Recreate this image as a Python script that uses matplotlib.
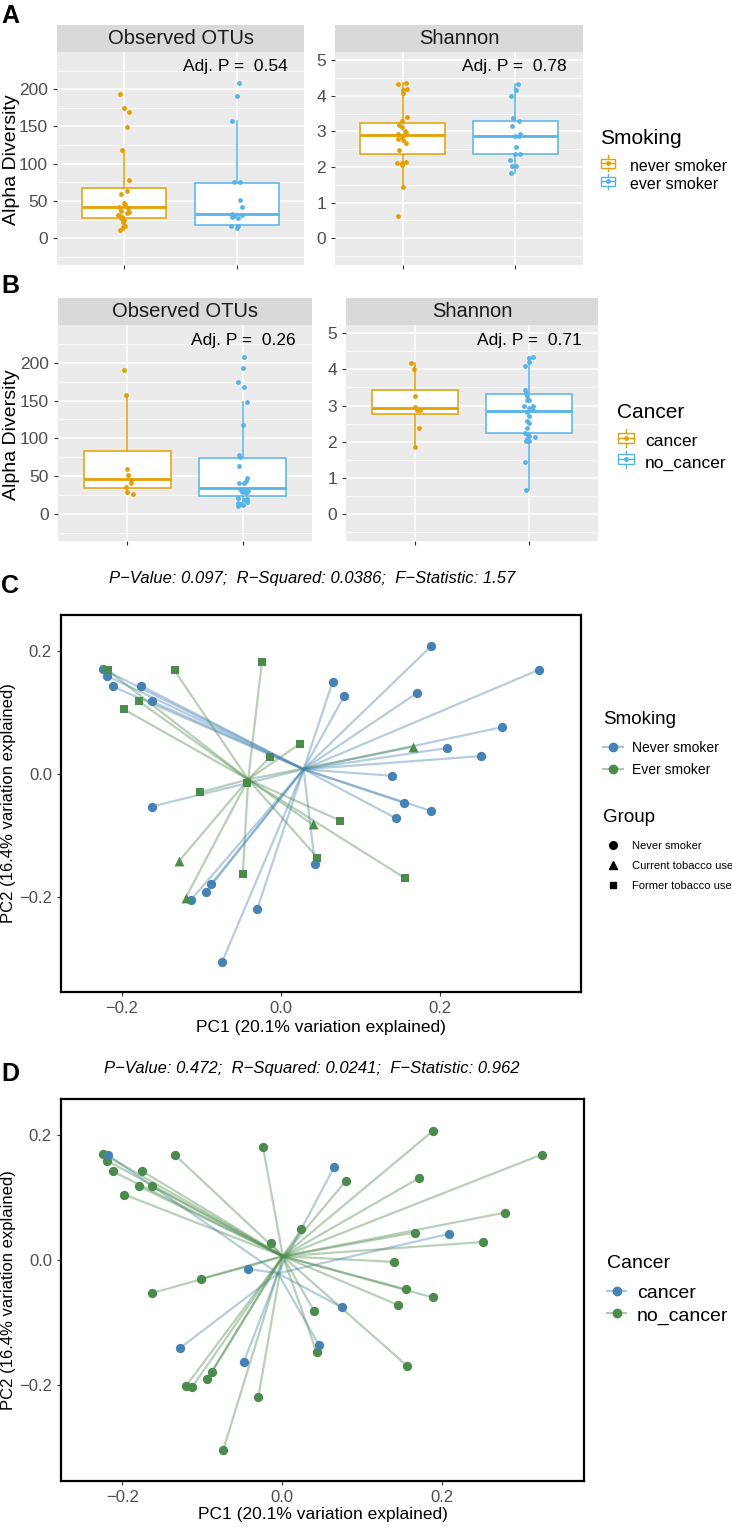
import numpy as np
import matplotlib
matplotlib.use('Agg')
import matplotlib.pyplot as plt
from matplotlib.lines import Line2D
from matplotlib.patches import Rectangle
from matplotlib.legend_handler import HandlerBase
from matplotlib.collections import LineCollection
from matplotlib.colors import to_rgba

plt.rcParams['font.family'] = ['Liberation Sans', 'DejaVu Sans']

# ---------------- alpha diversity data (A: smoking, B: cancer) ----------------
smoke_groups = ['never smoker', 'ever smoker']
cancer_groups = ['cancer', 'no_cancer']

# box stats: q1, median, q3, lower whisker, upper whisker
otu_box_smoke = [[27, 41.6, 67, 11, 117.7], [18, 32.7, 74.7, 14, 157]]
sha_box_smoke = [[2.38, 2.91, 3.25, 1.45, 4.35], [2.38, 2.88, 3.30, 1.84, 4.32]]
otu_box_cancer = [[33.6, 46.4, 83, 26.5, 157], [23.4, 33.6, 73.3, 11, 148]]
sha_box_cancer = [[2.77, 2.92, 3.44, 1.85, 4.17], [2.23, 2.86, 3.32, 0.65, 4.35]]

# jittered points (value, horizontal jitter in category units)
otu_never = [193, 175, 169, 149, 118, 78, 64, 60, 47, 44, 42, 40, 37, 35, 34, 31, 30, 29, 27, 25, 22, 16, 15, 11]
otu_never_jit = [-0.04, 0, 0.04, 0.02, -0.02, 0.04, 0.02, -0.03, 0, 0.01, -0.05, 0.03, -0.03, 0.04, 0.02, -0.06, -0.04, -0.02, -0.03, 0, -0.01, 0.01, -0.01, -0.04]
otu_ever = [208, 191.5, 158, 75, 75, 51, 42, 33, 31, 30, 28, 27, 16, 14, 16.5]
otu_ever_jit = [0.02, 0, -0.04, -0.02, 0.03, 0.03, 0.05, -0.04, 0.05, -0.02, -0.04, 0.01, -0.05, 0, 0.01]
sha_never = [4.32, 4.35, 4.16, 4.18, 4.08, 3.41, 3.30, 3.18, 3.13, 3.0, 2.96, 2.94, 2.91, 2.85, 2.78, 2.76, 2.68, 2.48, 2.12, 2.10, 2.13, 2.06, 1.45, 0.63]
sha_never_jit = [-0.04, 0.03, 0, 0.04, 0, 0.04, -0.01, -0.03, -0.01, 0.02, 0.03, -0.04, 0.01, -0.01, -0.04, 0, 0.03, -0.03, -0.05, -0.01, 0.03, -0.01, 0, -0.04]
sha_ever = [4.32, 4.16, 4.00, 3.37, 3.30, 3.15, 2.94, 2.88, 2.87, 2.57, 2.38, 2.36, 2.21, 2.04, 2.04, 1.84]
sha_ever_jit = [0.02, 0.01, -0.04, -0.02, 0.03, -0.03, 0.04, 0, 0.03, 0.01, 0.04, 0, -0.05, -0.03, 0.01, -0.04]

otu_cancer = [191, 157, 58.7, 51.2, 45, 41, 35.8, 28.7, 26.5]
otu_cancer_jit = [-0.03, -0.01, 0, 0.01, 0.03, 0.03, -0.01, 0, 0.05]
otu_nocancer = [207.5, 192.5, 174.8, 168, 148, 117, 77.7, 75.5, 63, 46.8, 43, 41, 41, 32.2, 31.3, 30, 28.7, 27, 21, 19, 17.7, 15.9, 14.6, 12.4, 11, 11.5]
otu_nocancer_jit = [0.01, 0, -0.04, 0.01, 0.04, 0, -0.03, -0.02, -0.03, 0.04, 0.03, -0.03, 0.01, -0.02, 0.02, 0.05, -0.01, 0.03, -0.04, 0.04, 0.01, 0.04, -0.04, -0.02, -0.04, 0]
sha_cancer = [4.17, 4.01, 3.26, 2.95, 2.89, 2.89, 2.38, 1.85]
sha_cancer_jit = [-0.03, -0.01, 0, 0, 0.02, 0.05, 0.04, 0]
sha_nocancer = [4.35, 4.31, 4.20, 4.09, 3.43, 3.35, 3.27, 3.15, 3.14, 2.98, 2.98, 2.92, 2.89, 2.81, 2.72, 2.58, 2.51, 2.37, 2.23, 2.20, 2.17, 2.14, 2.08, 2.01, 2.01, 1.45, 0.65]
sha_nocancer_jit = [0.03, 0, 0, -0.04, -0.04, -0.03, -0.02, 0, -0.02, -0.05, 0.03, 0, 0.03, -0.02, 0, -0.02, 0, -0.02, -0.04, -0.02, 0, 0.05, -0.02, -0.03, 0, -0.04, -0.03]

adjp_smoke = [0.54, 0.78]
adjp_cancer = [0.26, 0.71]

# ---------------- PCA data (C, D) ----------------
pc1 = [-0.224, -0.219, -0.212, -0.176, -0.163, -0.163, -0.088, -0.094, -0.113, -0.030, -0.074, 0.043,
       0.065, 0.080, 0.189, 0.325, 0.171, 0.279, 0.209, 0.252, 0.140, 0.155, 0.189, 0.145,
       -0.218, -0.179, -0.198, -0.134, -0.024, -0.014, 0.024, -0.043, -0.102, -0.048, 0.075, 0.046, 0.156,
       -0.128, -0.120, 0.040, 0.166]
pc2 = [0.170, 0.159, 0.142, 0.143, 0.118, -0.053, -0.179, -0.191, -0.204, -0.220, -0.305, -0.147,
       0.149, 0.127, 0.207, 0.169, 0.131, 0.076, 0.042, 0.029, -0.003, -0.047, -0.060, -0.072,
       0.168, 0.118, 0.105, 0.168, 0.181, 0.027, 0.049, -0.014, -0.030, -0.163, -0.076, -0.136, -0.169,
       -0.141, -0.201, -0.082, 0.044]
smoking = ['never'] * 24 + ['ever'] * 17
tobacco = ['never'] * 24 + ['former'] * 13 + ['current'] * 4
cancer = ['no'] * 41
for i in [12, 18, 24, 31, 33, 34, 35, 37]:
    cancer[i] = 'yes'

stats_c = ('0.097', '0.0386', '1.57')
stats_d = ('0.472', '0.0241', '0.962')

# ---------------- figure ----------------
W, H = 732, 1527
fig = plt.figure(figsize=(W / 100, H / 100), dpi=100)


def rect(l, t, r, b):
    return [l / W, 1 - b / H, (r - l) / W, (b - t) / H]


ORANGE, SKY = '#E69F00', '#56B4E9'
BLUE, GREEN = '#4682B4', '#4B8B4B'


def box_panel(l, r, t, b, title, boxes, vals, jits, pval, ylim, yticks):
    strip = fig.add_axes(rect(l, t - 27, r, t))
    strip.set_facecolor('#D9D9D9')
    strip.set_xticks([]); strip.set_yticks([])
    for s in strip.spines.values():
        s.set_visible(False)
    strip.text(0.5, 0.5, title, ha='center', va='center', fontsize=14.5, color='#1A1A1A')

    ax = fig.add_axes(rect(l, t, r, b))
    ax.set_facecolor('#EBEBEB')
    for s in ax.spines.values():
        s.set_visible(False)

    st = [dict(q1=q1, med=m, q3=q3, whislo=lo, whishi=hi, fliers=[]) for q1, m, q3, lo, hi in boxes]
    art = ax.bxp(st, positions=[1, 2], widths=0.75, showfliers=False, showcaps=False,
                 patch_artist=True, manage_ticks=False)
    for i, c in enumerate([ORANGE, SKY]):
        art['boxes'][i].set(facecolor='white', edgecolor=c, lw=1.1, zorder=2)
        art['medians'][i].set(color=c, lw=2, zorder=2.5)
        for w in art['whiskers'][2 * i:2 * i + 2]:
            w.set(color=c, lw=1.1, zorder=1.5)
        ax.scatter(i + 1 + np.array(jits[i]), vals[i], s=12, color=c, lw=0, zorder=3)

    ax.set_xlim(0.4, 2.6)
    ax.set_ylim(*ylim)
    step = yticks[1] - yticks[0]
    ax.set_yticks(yticks)
    ax.set_yticks(np.arange(yticks[0] - step / 2, ylim[1], step), minor=True)
    ax.set_xticks([1, 2])
    ax.set_xticklabels(['', ''])
    ax.grid(which='major', color='white', lw=1.1)
    ax.grid(which='minor', axis='y', color='white', lw=0.55)
    ax.set_axisbelow(True)
    ax.tick_params(which='major', color='#333333', labelcolor='#4D4D4D', labelsize=12.5, length=3, width=0.8)
    ax.tick_params(which='minor', length=0)
    ax.text(0.935, 0.93, 'Adj. P =  %.2f' % pval, transform=ax.transAxes, ha='right', va='center',
            fontsize=12.5, color='black')
    return ax


class BoxKey(HandlerBase):
    def create_artists(self, legend, orig, xd, yd, w, h, fontsize, trans):
        c = orig.get_edgecolor()
        x0, x1 = xd + w * 0.08, xd + w * 0.92
        box = Rectangle((x0, yd + h * 0.15), x1 - x0, h * 0.7, facecolor='white', edgecolor=c, lw=1,
                        transform=trans)
        med = Line2D([x0, x1], [yd + h / 2] * 2, color=c, lw=1, transform=trans)
        wl = Line2D([xd + w / 2] * 2, [yd - h * 0.1, yd + h * 0.15], color=c, lw=1, transform=trans)
        wu = Line2D([xd + w / 2] * 2, [yd + h * 0.85, yd + h * 1.1], color=c, lw=1, transform=trans)
        pt = Line2D([xd + w / 2], [yd + h / 2], marker='o', ms=2.5, color=c, transform=trans)
        return [box, med, wl, wu, pt]


def legend_at(handles, labels, title, x, ty, cy, tsize, lsize, hlen, hpad, lspace, hmap=None):
    fig.text(x / W, 1 - ty / H, title, ha='left', va='center', fontsize=tsize)
    fig.legend(handles, labels, loc='center left', bbox_to_anchor=(x / W, 1 - cy / H),
               frameon=False, borderpad=0, borderaxespad=0, handlelength=hlen, handleheight=0.9,
               handletextpad=hpad, labelspacing=lspace, fontsize=lsize, handler_map=hmap)


def box_legend(title, labels, x, ty, cy, tsize, lsize, hpad, lspace):
    handles = [Rectangle((0, 0), 1, 1, edgecolor=c) for c in [ORANGE, SKY]]
    legend_at(handles, labels, title, x, ty, cy, tsize, lsize, 1.05, hpad, lspace, {Rectangle: BoxKey()})


# panel A
box_panel(57, 304, 52, 265, 'Observed OTUs', otu_box_smoke, [otu_never, otu_ever],
          [otu_never_jit, otu_ever_jit], adjp_smoke[0], (-36, 250), [0, 50, 100, 150, 200])
box_panel(335, 583, 52, 265, 'Shannon', sha_box_smoke, [sha_never, sha_ever],
          [sha_never_jit, sha_ever_jit], adjp_smoke[1], (-0.75, 5.23), [0, 1, 2, 3, 4, 5])
box_legend('Smoking', smoke_groups, 600, 138, 175.5, 15, 11.5, 0.8, 0.2)
fig.text(12 / W, 1 - 160 / H, 'Alpha Diversity', rotation=90, ha='center', va='center', fontsize=14)
fig.text(1 / W, 1 - 16 / H, 'A', ha='left', va='center', fontsize=18, fontweight='bold')

# panel B
box_panel(58, 312, 325, 541, 'Observed OTUs', otu_box_cancer, [otu_cancer, otu_nocancer],
          [otu_cancer_jit, otu_nocancer_jit], adjp_cancer[0], (-36, 250), [0, 50, 100, 150, 200])
box_panel(346, 598, 325, 541, 'Shannon', sha_box_cancer, [sha_cancer, sha_nocancer],
          [sha_cancer_jit, sha_nocancer_jit], adjp_cancer[1], (-0.75, 5.23), [0, 1, 2, 3, 4, 5])
box_legend('Cancer', cancer_groups, 617, 413, 452, 15, 12.5, 0.55, 0.3)
fig.text(12 / W, 1 - 435 / H, 'Alpha Diversity', rotation=90, ha='center', va='center', fontsize=14)
fig.text(1 / W, 1 - 286 / H, 'B', ha='left', va='center', fontsize=18, fontweight='bold')

# ---------------- PCA panels ----------------
x1 = np.array(pc1)
x2 = np.array(pc2)


def pca_axes(l, t, r, b, stats, title_y, xlab_y):
    ax = fig.add_axes(rect(l, t, r, b))
    ax.set_xlim(-0.277, 0.378)
    ax.set_ylim(-0.354, 0.258)
    ax.set_xticks([-0.2, 0.0, 0.2])
    ax.set_yticks([-0.2, 0.0, 0.2])
    ax.set_xticklabels(['\u22120.2', '0.0', '0.2'])
    ax.set_yticklabels(['\u22120.2', '0.0', '0.2'])
    for s in ax.spines.values():
        s.set_linewidth(1.6)
    ax.tick_params(color='#333333', labelcolor='#4D4D4D', labelsize=12, length=3, width=0.8)
    ax.set_xlabel('PC1 (20.1% variation explained)', fontsize=12.5)
    ax.set_ylabel('PC2 (16.4% variation explained)', fontsize=12)
    # label anchors: top edge of x label, right edge of rotated y label
    ax.xaxis.set_label_coords(0.5, (b - (xlab_y - 8)) / (b - t))
    ax.yaxis.set_label_coords((16.5 - l) / (r - l), 0.5)
    fig.text(312 / W, 1 - title_y / H,
             'P\u2212Value: %s;  R\u2212Squared: %s;  F\u2212Statistic: %s' % stats,
             ha='center', va='center', fontsize=12, style='italic')
    return ax


def spider(ax, mask, color):
    cx, cy = x1[mask].mean(), x2[mask].mean()
    segs = [[(cx, cy), (a, b)] for a, b in zip(x1[mask], x2[mask])]
    ax.add_collection(LineCollection(segs, colors=[to_rgba(color, 0.4)], lw=1.6, zorder=1))


# panel C
axc = pca_axes(61, 615, 581, 992, stats_c, 578, 1028)
sm = np.array(smoking)
tb = np.array(tobacco)
spider(axc, sm == 'never', BLUE)
spider(axc, sm == 'ever', GREEN)
for grp, mk, sz in [('never', 'o', 45), ('current', '^', 50), ('former', 's', 38)]:
    for s_name, col in [('never', BLUE), ('ever', GREEN)]:
        m = (tb == grp) & (sm == s_name)
        if m.any():
            axc.scatter(x1[m], x2[m], marker=mk, s=sz, color=col, lw=0, zorder=3)
fig.text(1 / W, 1 - 586 / H, 'C', ha='left', va='center', fontsize=18, fontweight='bold')

h_smk = [Line2D([0], [0], color=to_rgba(c, 0.45), lw=1.5, marker='o', ms=6, mfc=c, mec=c) for c in [BLUE, GREEN]]
legend_at(h_smk, ['Never smoker', 'Ever smoker'], 'Smoking', 603, 720, 759, 13.5, 10, 1.45, 0.65, 0.55)
h_grp = [Line2D([0], [0], ls='none', marker=mk, ms=ms, color='black') for mk, ms in [('o', 5.5), ('^', 6), ('s', 5)]]
legend_at(h_grp, ['Never smoker', 'Current tobacco use', 'Former tobacco use'], 'Group',
          603, 817, 866, 13.5, 8, 1.8, 0.8, 0.88)

# panel D
axd = pca_axes(61, 1099, 584, 1481, stats_d, 1068, 1515)
ca = np.array(cancer)
spider(axd, ca == 'yes', BLUE)
spider(axd, ca == 'no', GREEN)
axd.scatter(x1[ca == 'no'], x2[ca == 'no'], s=45, color=GREEN, lw=0, zorder=3)
axd.scatter(x1[ca == 'yes'], x2[ca == 'yes'], s=45, color=BLUE, lw=0, zorder=3)
fig.text(1 / W, 1 - 1074 / H, 'D', ha='left', va='center', fontsize=18, fontweight='bold')

h_can = [Line2D([0], [0], color=to_rgba(c, 0.45), lw=1.5, marker='o', ms=6, mfc=c, mec=c) for c in [BLUE, GREEN]]
legend_at(h_can, cancer_groups, 'Cancer', 607, 1263, 1304, 14, 14, 1.0, 0.55, 0.2)

fig.savefig('out.png', dpi=100)
